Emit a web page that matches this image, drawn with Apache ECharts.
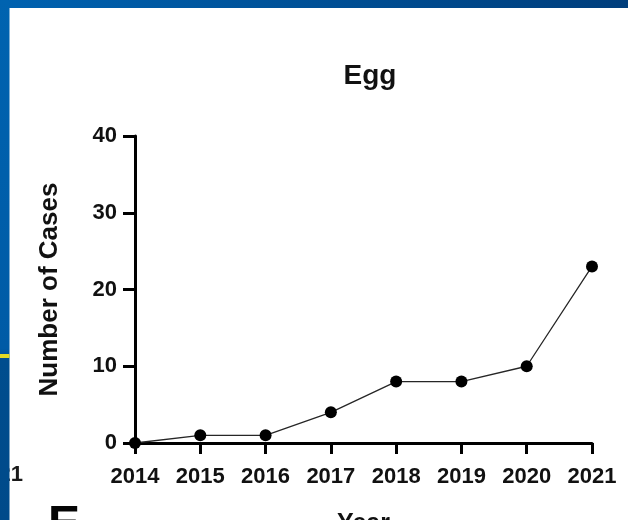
<!DOCTYPE html>
<html>
<head>
<meta charset="utf-8">
<script src="https://cdn.jsdelivr.net/npm/echarts@6/dist/echarts.min.js"></script>
<style>
  html, body { margin: 0; padding: 0; background: #fff; }
  #chart { width: 628px; height: 520px; }
</style>
</head>
<body>
<div id="chart"></div>
<script>
// Yearly case counts
const years = ['2014', '2015', '2016', '2017', '2018', '2019', '2020', '2021'];
const cases = [0, 1, 1, 4, 8, 8, 10, 23];
const yTicks = { min: 0, max: 40, step: 10 };

const FONT = '"Liberation Sans", Arial, sans-serif';
const chart = echarts.init(document.getElementById('chart'), null, { renderer: 'canvas' });

chart.setOption({
  animation: false,
  backgroundColor: '#ffffff',
  title: {
    text: 'Egg',
    left: 365,
    top: 57,
    textAlign: 'center',
    textStyle: { fontFamily: FONT, fontWeight: 'bold', fontSize: 28, color: '#111' }
  },
  graphic: [
    // slide frame: top band and left strip
    {
      type: 'rect', z: -10, silent: true,
      shape: { x: 0, y: 0, width: 628, height: 8 },
      style: {
        fill: new echarts.graphic.LinearGradient(0, 0, 1, 0, [
          { offset: 0, color: '#0062b0' },
          { offset: 1, color: '#003e7c' }
        ])
      }
    },
    {
      type: 'text', z: 5, silent: true,
      style: {
        text: '21', x: 23, y: 464, textAlign: 'right', textVerticalAlign: 'top',
        font: 'bold 22px ' + FONT, fill: '#1a1a1a'
      }
    },
    {
      type: 'text', z: 5, silent: true,
      style: {
        text: 'E', x: 48, y: 502, textAlign: 'left', textVerticalAlign: 'top',
        font: 'bold 48px ' + FONT, fill: '#050505'
      }
    },
    {
      type: 'rect', z: 10, silent: true,
      shape: { x: 0, y: 0, width: 9.5, height: 520 },
      style: {
        fill: new echarts.graphic.LinearGradient(0, 0, 0, 1, [
          { offset: 0, color: '#0063b0' },
          { offset: 0.67, color: '#005ba6' },
          { offset: 0.69, color: '#004d8e' },
          { offset: 1, color: '#004a8a' }
        ])
      }
    },
    {
      type: 'rect', z: 11, silent: true,
      shape: { x: 0, y: 354, width: 9.5, height: 4 },
      style: { fill: '#e3da24' }
    }
  ],
  grid: { left: 135, right: 36, top: 136, bottom: 77, containLabel: false, outerBoundsMode: 'none' },
  xAxis: {
    type: 'category',
    data: years,
    boundaryGap: false,
    name: 'Year',
    nameLocation: 'middle',
    nameGap: 69,
    nameTextStyle: { fontFamily: FONT, fontWeight: 'bold', fontSize: 25, color: '#111', verticalAlign: 'top' },
    axisLine: { show: true, lineStyle: { color: '#000', width: 3 } },
    axisTick: { show: true, alignWithLabel: true, length: 11, lineStyle: { color: '#000', width: 3 } },
    axisLabel: { fontFamily: FONT, fontWeight: 'bold', fontSize: 22, color: '#111', margin: 23, interval: 0 },
    splitLine: { show: false }
  },
  yAxis: {
    type: 'value',
    min: yTicks.min,
    max: yTicks.max,
    interval: yTicks.step,
    name: 'Number of Cases',
    nameLocation: 'middle',
    nameGap: 72,
    nameTextStyle: { fontFamily: FONT, fontWeight: 'bold', fontSize: 26, color: '#111' },
    axisLine: { show: true, lineStyle: { color: '#000', width: 3 } },
    axisTick: { show: true, length: 12, lineStyle: { color: '#000', width: 3 } },
    axisLabel: { fontFamily: FONT, fontWeight: 'bold', fontSize: 22, color: '#111', margin: 18 },
    splitLine: { show: false }
  },
  series: [{
    type: 'line',
    data: cases,
    symbol: 'circle',
    symbolSize: 12,
    showSymbol: true,
    lineStyle: { color: '#262626', width: 1.3 },
    itemStyle: { color: '#000' },
    z: 3
  }]
});
</script>
</body>
</html>
